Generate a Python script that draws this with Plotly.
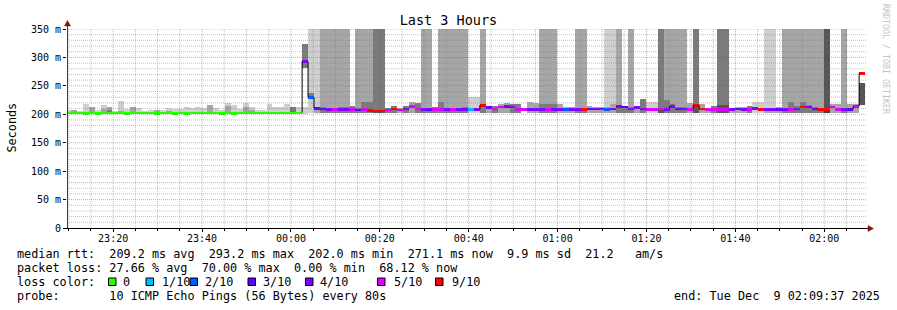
import plotly.graph_objects as go
import pandas as pd

# ---------------- data ----------------
chart_title = "Last 3 Hours"
range_start = "2025-12-08 23:09:37"
range_end = "2025-12-09 02:09:37"
first_step = "2025-12-08 23:09:11"
step_seconds = 80

# median rtt per 80 s step (ms)
median_ms = [
    203, 203, 203, 202, 203, 202, 203, 203, 203, 204,
    202, 203, 203, 203, 203, 202, 203, 204, 202, 203,
    202, 203, 203, 203, 203, 203, 202, 203, 202, 203,
    203, 204, 203, 203, 203, 203, 203, 203, 203, 203,
    293, 230, 211, 210, 209, 209, 209, 209, 209, 208,
    209, 207, 206, 206, 208, 210, 208, 210, 214, 210,
    209, 209, 209, 209, 209, 209, 209, 209, 209, 209,
    216, 212, 210, 213, 214, 213, 209, 209, 209, 209,
    209, 209, 209, 209, 209, 209, 209, 209, 210, 210,
    210, 209, 210, 214, 213, 210, 212, 210, 209, 209,
    210, 209, 214, 210, 210, 209, 216, 210, 209, 209,
    209, 209, 209, 210, 209, 209, 211, 209, 209, 209,
    209, 209, 209, 210, 213, 213, 210, 209, 209, 213,
    209, 209, 209, 214, 272, None,
]

# lost pings out of 10 per step
loss_count = [
    0, 0, 0, 0, 0, 0, 0, 0, 0, 0,
    0, 0, 0, 0, 0, 0, 0, 0, 0, 0,
    0, 0, 0, 0, 0, 0, 0, 0, 0, 0,
    0, 0, 0, 0, 0, 0, 0, 0, 0, 0,
    4, 2, 3, 3, 4, 5, 4, 4, 5, 3,
    5, 9, 9, 9, 5, 9, 5, 4, 5, 5,
    4, 3, 5, 5, 4, 5, 4, 4, 1, 4,
    9, 3, 5, 5, 4, 4, 5, 5, 4, 4,
    4, 5, 4, 4, 2, 4, 4, 9, 3, 4,
    4, 2, 4, 4, 3, 4, 4, 4, 5, 5,
    5, 4, 4, 3, 4, 5, 9, 9, 5, 5,
    5, 5, 4, 3, 4, 5, 4, 9, 4, 4,
    3, 4, 5, 4, 9, 4, 3, 9, 9, 5,
    5, 4, 3, 5, 7, None,
]

# smoke: lowest ping (ms)
smoke_low = [
    201, 201, 201, 201, 201, 201, 201, 201, 201, 201,
    201, 201, 201, 201, 201, 201, 201, 201, 201, 201,
    201, 201, 201, 201, 201, 201, 201, 201, 201, 201,
    201, 201, 201, 201, 201, 201, 201, 201, 201, 201,
    201, 203, 203, 203, 203, 203, 203, 203, 203, 203,
    203, 203, 203, 203, 203, 203, 203, 203, 203, 203,
    203, 203, 203, 203, 203, 203, 203, 203, 203, 203,
    203, 203, 203, 203, 203, 203, 203, 203, 203, 203,
    203, 203, 203, 203, 203, 203, 203, 203, 203, 203,
    203, 203, 203, 203, 203, 203, 203, 203, 203, 203,
    203, 203, 203, 203, 203, 203, 203, 203, 203, 203,
    203, 203, 203, 203, 203, 203, 203, 203, 203, 203,
    203, 203, 203, 203, 203, 203, 203, 203, 203, 203,
    203, 203, 203, 203, None, None,
]

# smoke: highest ping (ms); 400 = beyond the top of the scale
smoke_high = [
    208, 207, 206, 218, 213, 208, 216, 213, 206, 223,
    209, 213, 211, 206, 207, 207, 207, 211, 209, 209,
    213, 211, 213, 211, 216, 211, 207, 220, 216, 210,
    220, 213, 207, 207, 218, 213, 213, 218, 213, 212,
    212, 400, 400, 400, 400, 400, 400, 400, 214, 400,
    400, 400, 400, 400, 211, 214, 211, 214, 221, 219,
    400, 400, 213, 400, 400, 400, 400, 400, 231, 231,
    400, 214, 214, 218, 220, 218, 218, None, 221, 220,
    400, 400, 400, 218, 213, 212, 400, 400, 214, 212,
    212, 400, 400, 400, 215, 400, 214, 227, 221, 221,
    400, 400, 400, 400, 400, 220, 400, 218, 211, 214,
    400, 400, 211, 212, 212, 214, 221, 221, 400, 400,
    213, 400, 400, 400, 400, 400, 400, 400, 400, 218,
    218, 400, 218, 218, None, None,
]

# smoke density level (1 = sparse/light ... 4 = dense/dark)
smoke_density = [
    1, 2, 1, 1, 2, 1, 1, 2, 1, 1,
    1, 2, 1, 1, 1, 1, 1, 1, 1, 1,
    1, 1, 1, 1, 1, 1, 1, 1, 1, 1,
    1, 1, 1, 1, 1, 1, 1, 1, 2, 1,
    1, 1, 1, 2, 2, 2, 2, 2, 3, 2,
    2, 2, 3, 3, 3, 3, 2, 3, 2, 3,
    2, 2, 3, 2, 2, 2, 2, 2, 1, 1,
    2, 2, 3, 2, 2, 3, 3, 1, 2, 2,
    2, 2, 2, 2, 2, 2, 2, 2, 2, 2,
    2, 1, 1, 2, 3, 2, 2, 3, 1, 1,
    3, 2, 2, 2, 2, 2, 3, 2, 2, 3,
    3, 3, 2, 2, 2, 3, 1, 1, 1, 1,
    2, 2, 2, 2, 2, 2, 2, 2, 4, 2,
    2, 2, 2, 2, 1, 1,
]

# smoke: upper edge of the dense core (ms)
core_high = [
    None, None, None, None, None, None, 209, 208, None, None,
    None, None, None, None, None, 207, None, None, None, None,
    None, None, None, None, 216, None, None, 214, None, None,
    212, 207, None, None, None, None, None, None, 213, None,
    None, None, 213, 212, 211, 211, 212, 213, None, 211,
    221, 222, 208, 208, None, None, None, None, None, None,
    210, 210, None, 221, 211, 211, 211, 212, None, None,
    218, None, None, None, None, None, None, None, None, None,
    218, 218, 218, None, None, None, 211, 211, None, None,
    None, 212, 218, 216, None, 212, None, None, None, None,
    211, 225, 218, 212, 212, None, 218, None, None, None,
    216, 216, None, None, None, None, None, None, 211, 211,
    None, 211, 221, 214, 221, 216, 212, 211, 211, None,
    None, 211, None, None, None, None,
]

# detached smoke bands (step index, low ms, high ms, density)
band_step = [40, 41, 134]
band_low = [281, 229, 216]
band_high = [324, 237, 255]
band_density = [3, 3, 4]

# statistics shown in the legend
rtt_stats = [209.2, 293.2, 202.0, 271.1]   # avg, max, min, now (ms)
rtt_sd = 9.9
rtt_am_s = 21.2
loss_stats = [27.66, 70.00, 0.00, 68.12]    # avg, max, min, now (%)
probe_text = "10 ICMP Echo Pings (56 Bytes) every 80s"
end_text = "end: Tue Dec  9 02:09:37 2025"

loss_legend_levels = [0, 1, 2, 3, 4, 5, 9]
loss_legend_labels = ["0", "1/10", "2/10", "3/10", "4/10", "5/10", "9/10"]

y_tick_vals = [0, 50, 100, 150, 200, 250, 300, 350]
y_tick_text = ["0", "50 m", "100 m", "150 m", "200 m", "250 m", "300 m", "350 m"]

# ---------------- styling ----------------
FONT = "DejaVu Sans Mono"
W, H = 897, 310
L, R, T, B = 67, 867, 29, 228   # plot area in pixels

shade = {1: "#cfcfcf", 2: "#a6a6a6", 3: "#7b7b7b", 4: "#555555", 5: "#3c3c3c"}
loss_palette = {0: "#26ff00", 1: "#00b8ff", 2: "#0059ff", 3: "#5e00ff",
                4: "#7e00ff", 5: "#dd00ff", 6: "#ff0000"}


def loss_color(n):
    return loss_palette[min(n, 6)]


def px(xp):
    return (xp - L) / (R - L)


def py(yp):
    return (B - yp) / (B - T)


n = len(median_ms)
t_first = pd.Timestamp(first_step)
step = pd.Timedelta(seconds=step_seconds)
starts = [t_first + step * k for k in range(n)]
centers = [s + step / 2 for s in starts]
bar_w = step_seconds * 1000

fig = go.Figure()

# outer smoke
idx = [k for k in range(n) if smoke_high[k] is not None]
fig.add_trace(go.Bar(
    x=[centers[k] for k in idx],
    base=[smoke_low[k] for k in idx],
    y=[smoke_high[k] - smoke_low[k] for k in idx],
    width=bar_w,
    marker=dict(color=[shade[smoke_density[k]] for k in idx], line=dict(width=0)),
    hoverinfo="skip", showlegend=False,
))

# dense core
idx = [k for k in range(n) if core_high[k] is not None]
fig.add_trace(go.Bar(
    x=[centers[k] for k in idx],
    base=[smoke_low[k] for k in idx],
    y=[core_high[k] - smoke_low[k] for k in idx],
    width=bar_w,
    marker=dict(color=[shade[smoke_density[k] + 1] for k in idx], line=dict(width=0)),
    hoverinfo="skip", showlegend=False,
))

# detached bands
fig.add_trace(go.Bar(
    x=[centers[k] for k in band_step],
    base=band_low,
    y=[h - l for h, l in zip(band_high, band_low)],
    width=bar_w,
    marker=dict(color=[shade[d] for d in band_density], line=dict(width=0)),
    hoverinfo="skip", showlegend=False,
))

# loss-coloured median marks
idx = [k for k in range(n) if median_ms[k] is not None]
fig.add_trace(go.Bar(
    x=[centers[k] for k in idx],
    base=[median_ms[k] - 1.75 for k in idx],
    y=[3.5 for k in idx],
    width=bar_w,
    marker=dict(color=[loss_color(loss_count[k]) for k in idx], line=dict(width=0)),
    hoverinfo="skip", showlegend=False,
))

# black connectors of the median between steps
lx, ly = [], []
for k in range(1, n):
    a, b = median_ms[k - 1], median_ms[k]
    if a is None or b is None or abs(a - b) < 5:
        continue
    lx += [starts[k], starts[k], None]
    ly += [a, b, None]
fig.add_trace(go.Scatter(x=lx, y=ly, mode="lines",
                         line=dict(color="#000000", width=1),
                         hoverinfo="skip", showlegend=False))

# ---------------- grid (drawn above the data like rrdtool) ----------------
shapes = []
minor_c = "rgba(120,120,120,0.45)"
major_c = "rgba(225,30,30,0.42)"
t0, t1 = pd.Timestamp(range_start), pd.Timestamp(range_end)
for t in pd.date_range(t0.ceil("5min"), t1, freq="5min"):
    major = t.minute % 20 == 0
    shapes.append(dict(type="line", xref="x", yref="paper",
                       x0=t.strftime("%Y-%m-%d %H:%M:%S"), x1=t.strftime("%Y-%m-%d %H:%M:%S"),
                       y0=0, y1=1, layer="above",
                       line=dict(color=major_c if major else minor_c, width=1, dash="1px,1px")))
for v in range(10, 351, 10):
    major = v % 50 == 0
    shapes.append(dict(type="line", xref="paper", yref="y", x0=0, x1=1, y0=v, y1=v,
                       layer="above",
                       line=dict(color=major_c if major else minor_c, width=1, dash="1px,1px")))

# axes lines and arrows
shapes.append(dict(type="line", xref="paper", yref="paper",
                   x0=px(L + 0.5), x1=px(L + 0.5), y0=py(B), y1=py(25),
                   layer="above", line=dict(color="#404040", width=1)))
shapes.append(dict(type="line", xref="paper", yref="paper",
                   x0=px(63), x1=px(869), y0=py(B + 0.5), y1=py(B + 0.5),
                   layer="above", line=dict(color="#000000", width=1)))
arrow_c = "#8b1010"
shapes.append(dict(type="path", xref="paper", yref="paper", layer="above",
                   path=f"M {px(64.5)} {py(26)} L {px(67.5)} {py(20.5)} L {px(70.5)} {py(26)} Z",
                   fillcolor=arrow_c, line=dict(color=arrow_c, width=0.5)))
shapes.append(dict(type="path", xref="paper", yref="paper", layer="above",
                   path=f"M {px(868)} {py(225.5)} L {px(873.5)} {py(228.5)} L {px(868)} {py(231.5)} Z",
                   fillcolor=arrow_c, line=dict(color=arrow_c, width=0.5)))

# ---------------- legend texts ----------------
NB = "\u00a0"


def nb(s):
    return s.replace(" ", NB)


line1 = ("median rtt:  {:.1f} ms avg  {:.1f} ms max  {:.1f} ms min  {:.1f} ms now  "
         "{:.1f} ms sd  {:.1f}   am/s").format(*rtt_stats, rtt_sd, rtt_am_s)
line2 = "packet loss: {:.2f} % avg  {:.2f} % max  {:.2f} % min  {:.2f} % now".format(*loss_stats)
line4 = "probe:       " + probe_text

LF = dict(family=FONT, size=11.8, color="#000000")
ann = []


def text(s, x, y, anchor="left", font=LF, angle=0):
    ann.append(dict(text=nb(s), xref="paper", yref="paper", x=px(x), y=py(y),
                    xanchor=anchor, yanchor="middle", showarrow=False,
                    font=font, borderpad=0, textangle=angle))


text(line1, 16, 254)
text(line2, 16, 268)
text("loss color:", 16, 282)
text(line4, 16, 296)
text(end_text, 881, 296, anchor="right")

sq_x = [108.5, 146, 190, 248, 305.5, 377.5, 435.5]
lab_x = [122, 160.5, 203.5, 261.5, 319, 392.5, 450.5]
for lvl, lab, sx, lx_ in zip(loss_legend_levels, loss_legend_labels, sq_x, lab_x):
    shapes.append(dict(type="rect", xref="paper", yref="paper",
                       x0=px(sx), x1=px(sx + 7.5), y0=py(285.5), y1=py(278),
                       fillcolor=loss_color(lvl), line=dict(color="#000000", width=1)))
    text(lab, lx_, 282)

text("Seconds", 11.5, 127, anchor="center", angle=-90)
text("RRDTOOL / TOBI OETIKER", 886, 59, anchor="center",
     font=dict(family=FONT, size=8.3, color="#c4c4c4"), angle=90)

fig.update_layout(
    width=W, height=H, autosize=False,
    margin=dict(l=L, r=W - R, t=T, b=H - B, pad=0),
    paper_bgcolor="#ffffff", plot_bgcolor="#ffffff",
    barmode="overlay", bargap=0,
    font=dict(family=FONT, size=10, color="#000000"),
    title=dict(text=chart_title, x=0.5, xref="container", xanchor="center",
               y=1 - 20 / H, yref="container", yanchor="middle",
               font=dict(family=FONT, size=13.5, color="#000000")),
    xaxis=dict(type="date", range=[range_start, range_end],
               tick0="2025-12-08 23:20:00", dtick=20 * 60 * 1000, tickformat="%H:%M",
               showgrid=False, zeroline=False, showline=False,
               ticks="outside", ticklen=3, tickcolor="#000000", tickwidth=1,
               ticklabelstandoff=-2,
               minor=dict(dtick=5 * 60 * 1000, tick0="2025-12-08 23:20:00",
                          ticks="outside", ticklen=2, tickcolor="#000000", showgrid=False),
               tickfont=dict(family=FONT, size=10, color="#000000"), fixedrange=True),
    yaxis=dict(range=[0, 350], tickmode="array", tickvals=y_tick_vals, ticktext=y_tick_text,
               showgrid=False, zeroline=False, showline=False,
               ticks="outside", ticklen=3, tickcolor="#000000", tickwidth=1,
               tickfont=dict(family=FONT, size=10, color="#000000"), fixedrange=True),
    shapes=shapes,
    annotations=ann,
    showlegend=False,
)

fig.write_html("out.html")
